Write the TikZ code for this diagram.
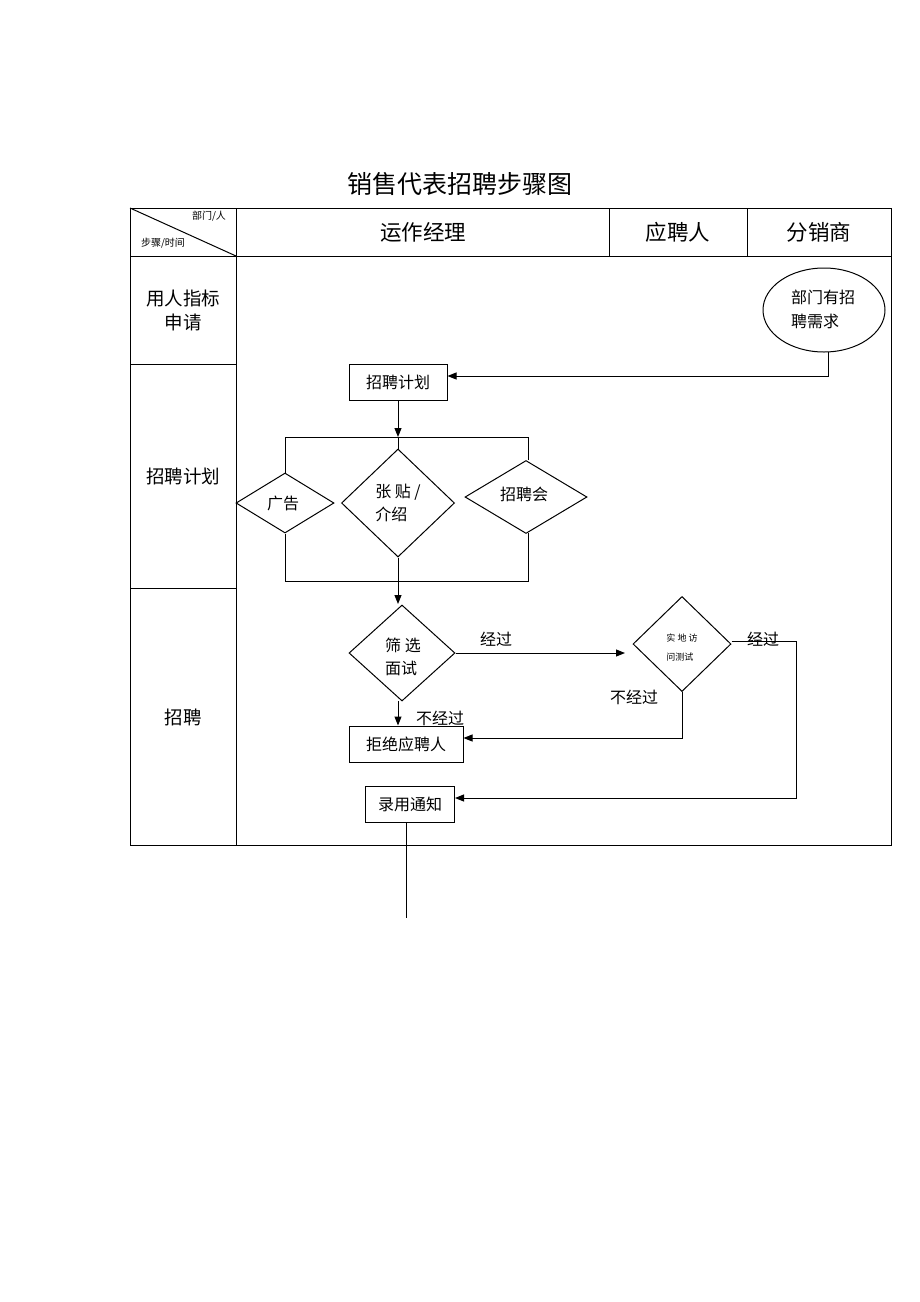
\documentclass[tikz,border=0pt]{standalone}
\usepackage{fontspec}
\setmainfont{Liberation Sans}
\newfontfamily\cjk{Noto Sans CJK SC}
\usetikzlibrary{arrows.meta,shapes.geometric}
\tikzset{
  ln/.style={line width=1pt, black},
  arr/.style={ln, -{Triangle[length=9pt,width=7pt]}},
  box/.style={draw, line width=1pt, rectangle, inner sep=0pt, font=\cjk\fontsize{16}{19}\selectfont},
  dia/.style={draw, line width=1pt, diamond, inner sep=0pt},
  txt/.style={font=\cjk\fontsize{16}{19}\selectfont, inner sep=0pt},
  hdr/.style={font=\cjk\fontsize{21.5}{25}\selectfont, inner sep=0pt},
  rowl/.style={font=\cjk\fontsize{18.5}{24}\selectfont, inner sep=0pt, align=center},
}
\begin{document}
\begin{tikzpicture}[x=1pt,y=-1pt]
\useasboundingbox (0,0) rectangle (920,1302);
\fill[white] (0,0) rectangle (920,1302);
% title
\node[font=\cjk\fontsize{25}{30}\selectfont, inner sep=0pt] (title) at (460,184) {销售代表招聘步骤图};
% table
\draw[ln] (130,208) rectangle (891,845);
\draw[ln] (130,256) -- (891,256);
\draw[ln] (236,208) -- (236,845);
\draw[ln] (609,208) -- (609,256);
\draw[ln] (747,208) -- (747,256);
\draw[ln] (130,364) -- (236,364);
\draw[ln] (130,588) -- (236,588);
\draw[ln] (130,208) -- (236,256);
\node[font=\cjk\fontsize{10}{12}\selectfont, inner sep=0pt] (dept) at (209,216) {部门/人};
\node[font=\cjk\fontsize{10}{12}\selectfont, inner sep=0pt] (stepl) at (163,243) {步骤/时间};
\node[hdr] (h1) at (423,232) {运作经理};
\node[hdr] (h2) at (678,232) {应聘人};
\node[hdr] (h3) at (819,232) {分销商};
\node[rowl] (r1) at (183,310) {用人指标\\申请};
\node[rowl] (r2) at (183,476) {招聘计划};
\node[rowl] (r3) at (183,717) {招聘};
% nodes
\draw[ln] (824,310) ellipse [x radius=61, y radius=42];
\node[txt, align=left] (need) at (823,309) {部门有招\\[5pt]聘需求};
\coordinate (needb) at (828,352);
\node[box, minimum width=98pt, minimum height=36pt] (plan) at (398,382) {招聘计划};
\node[dia, minimum width=98pt, minimum height=60pt, aspect=1.63] (ad) at (285,503) {};
\node[txt] at (283,503) {广告};
\node[dia, minimum width=113pt, minimum height=108pt, aspect=1.05] (post) at (398,503) {};
\node[txt, align=left] at (398,503) {张 贴 /\\[4pt]介绍};
\node[dia, minimum width=122pt, minimum height=73pt, aspect=1.67] (fair) at (526,497) {};
\node[txt] at (524,494) {招聘会};
\node[dia, minimum width=106pt, minimum height=96pt, aspect=1.1] (screen) at (402,653) {};
\node[txt, align=left] at (403,657) {筛 选\\[4pt]面试};
\node[dia, minimum width=98pt, minimum height=95pt, aspect=1.03] (visit) at (682,644) {};
\node[font=\cjk\fontsize{9}{11}\selectfont, inner sep=0pt, align=left] at (682,648) {实 地 访\\[8pt]问测试};
\node[box, minimum width=114pt, minimum height=36pt] (reject) at (406,744) {拒绝应聘人};
\node[box, minimum width=89pt, minimum height=36pt] (hire) at (410,804) {录用通知};
\coordinate (endp) at (406,918);
% connectors
\draw[arr] (needb) |- ([yshift=6pt]plan.east);
\coordinate (split) at (398,437);
\draw[arr] (plan.south) -- (split);
\draw[ln] (split) -- (post.north);
\draw[ln] (285,437) -- (528,437);
\draw[ln] (285,437) -- (ad.north);
\draw[ln] (528,437) -- (528,460);
\draw[ln] (ad.south) -- (285,581) -- (528,581) -- (528,533);
\coordinate (join) at (398,581);
\draw[ln] (post.south) -- (join);
\draw[arr] (join) -- (398,604);
\coordinate (vleft) at (625,653);
\draw[arr] (screen.east) -- (vleft);
\node[txt] (l1) at (496,639) {经过};
\draw[arr] (visit.south) |- ([yshift=6pt]reject.east);
\node[txt] (l2) at (634,697) {不经过};
\draw[arr] ([yshift=3pt]visit.east) -- (796,641) |- ([yshift=6pt]hire.east);
\node[txt] (l3) at (763,639) {经过};
\coordinate (sb) at (398,701);
\draw[arr] (sb) -- (sb |- reject.north);
\node[txt] (l4) at (440,718) {不经过};
\draw[ln] (hire.south -| endp) -- (endp);
\end{tikzpicture}
\end{document}
